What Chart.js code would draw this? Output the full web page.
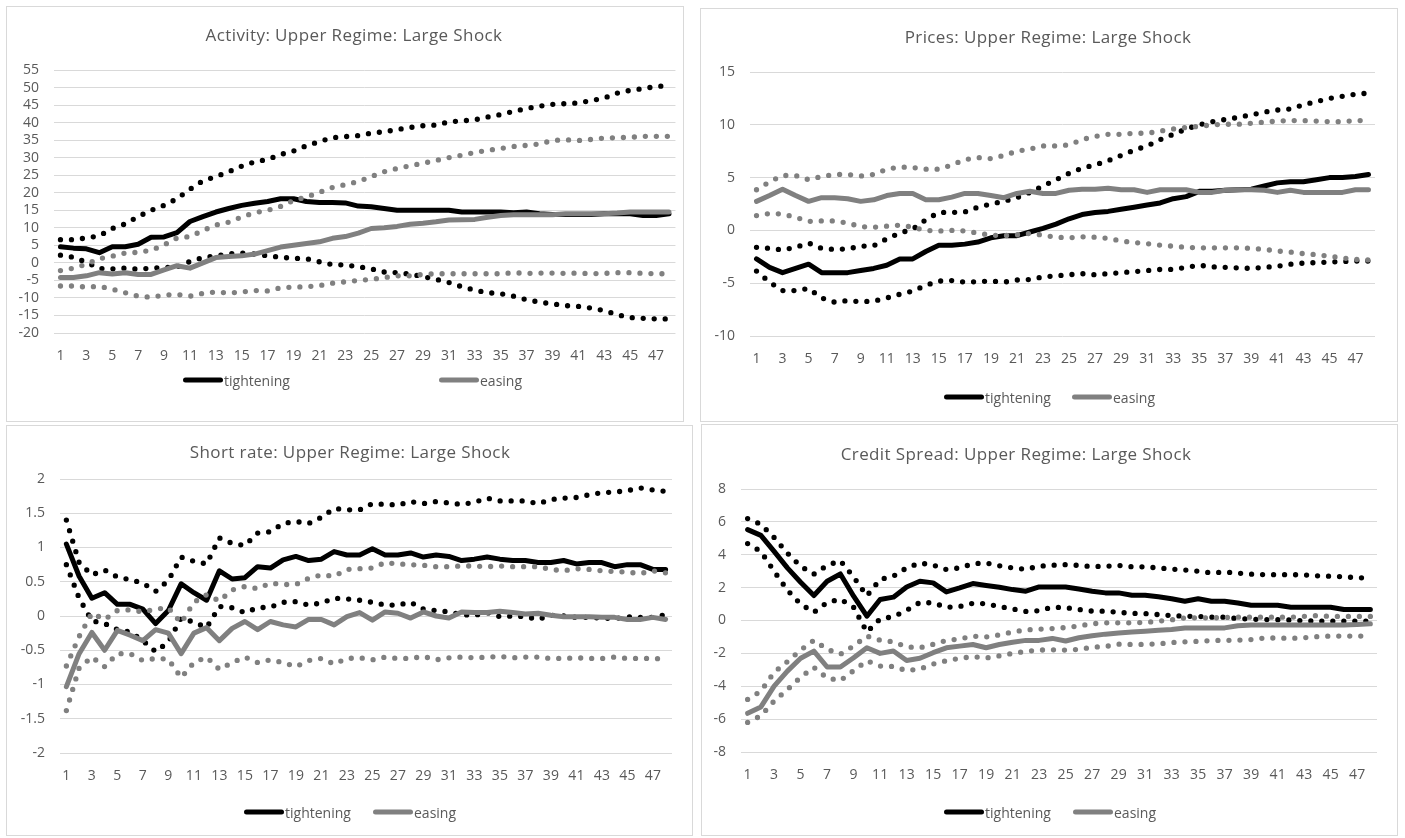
<!DOCTYPE html>
<html>
<head>
<meta charset="utf-8">
<script src="https://cdn.jsdelivr.net/npm/chart.js@4.4.0/dist/chart.umd.min.js"></script>
<style>
  body { margin: 0; width: 1405px; height: 838px; background: #fff; position: relative; overflow: hidden; font-family: "Open Sans", sans-serif; }
  .panel { position: absolute; border: 1px solid #d9d9d9; box-sizing: border-box; }
  canvas { position: absolute; }
  .title { position: absolute; transform: translate(-50%, -50%); white-space: nowrap; color: #595959; font-size: 17px; letter-spacing: 0.4px; }
  .leg { position: absolute; transform: translateY(-50%); display: flex; align-items: center; color: #595959; font-size: 14px; white-space: nowrap; }
  .leg i { display: inline-block; width: 40px; height: 5px; border-radius: 3px; margin-right: 1px; }
</style>
</head>
<body>
<script>
// horizons (x categories)
const horizons = [1,2,3,4,5,6,7,8,9,10,11,12,13,14,15,16,17,18,19,20,21,22,23,24,
                  25,26,27,28,29,30,31,32,33,34,35,36,37,38,39,40,41,42,43,44,45,46,47,48];

// Activity
const actTight   = [4.6,4.2,4.0,2.9,4.6,4.6,5.3,7.3,7.4,8.6,11.8,13.2,14.5,15.5,16.4,17,17.5,18.3,18.3,17.5,17.2,17.2,17.1,16.2,16,15.5,15,15,15,15,15,14.5,14.5,14.5,14.5,14.3,14.5,14,13.8,13.8,13.8,13.8,14,14,14,13.5,13.5,14];
const actTightHi = [6.6,6.6,7.1,7.7,9.8,11.1,13.2,15,16.4,18.3,21,23.4,24.6,26,27.6,28.8,29.5,30.9,31.9,33.4,34.6,35.7,36,36.3,37,37.4,38,38.6,39.1,39.3,40.2,40.5,40.8,41.6,42.3,43.2,44,44.7,45.2,45.4,45.6,46.3,47,48.4,49.2,49.7,50.3,50.5];
const actTightLo = [2.2,1.6,0.2,-1.6,-1.7,-1.5,-1.8,-1.5,-1.3,-1.2,0.4,1.5,2,2.6,2.8,2.5,2,1.6,1.3,1.2,0.3,-0.5,-0.6,-1.1,-1.7,-2.6,-2.8,-3.2,-3.9,-4.7,-5.6,-6.8,-7.8,-8.5,-8.8,-9.5,-10.5,-11.2,-11.7,-12.2,-12.4,-12.9,-13.6,-14.8,-15.6,-15.8,-16,-16];
const actEase    = [-4.2,-4.2,-3.7,-2.8,-3.2,-2.8,-3.3,-3.3,-2,-0.8,-1.5,0,1.5,1.8,2,2.5,3.5,4.5,5,5.5,6,7,7.5,8.5,9.8,10,10.4,11,11.3,11.7,12.2,12.3,12.4,13,13.5,13.7,13.7,13.7,13.7,14,14,14,14,14.2,14.5,14.5,14.5,14.5];
const actEaseHi  = [-2.2,-1.5,-0.4,1.2,1.9,2.8,3.0,3.6,5.1,7.1,7.5,9.2,10.8,11.6,13.1,14.3,15,16.1,17.8,18.8,20.1,21.5,22.3,23.2,24.6,26,26.9,27.7,28.4,29.2,30,30.7,31.5,32.1,32.6,33.2,33.5,33.9,34.9,35.1,34.9,35.2,35.6,35.7,35.8,36.1,36.1,36.1];
const actEaseLo  = [-6.6,-6.6,-6.9,-6.7,-7.5,-8.5,-9.5,-9.8,-9.2,-9,-9.5,-8.7,-8.3,-8.6,-8.3,-7.9,-8,-7.1,-6.9,-6.8,-6.5,-5.8,-5.4,-5,-4.7,-4.2,-3.7,-3.7,-3.3,-3.1,-3.1,-3.1,-3.1,-3.1,-3.1,-2.8,-3.0,-2.9,-2.9,-3,-2.9,-3.1,-3.0,-2.8,-2.8,-3,-3.1,-3.1];

// Prices
const prcTight   = [-2.7,-3.5,-4,-3.6,-3.2,-4,-4,-4,-3.8,-3.6,-3.3,-2.7,-2.7,-2,-1.4,-1.4,-1.3,-1.1,-0.7,-0.5,-0.5,-0.15,0.2,0.6,1.1,1.5,1.7,1.8,2,2.2,2.4,2.6,3,3.2,3.7,3.7,3.8,3.85,3.9,4.2,4.5,4.6,4.6,4.8,5,5,5.1,5.3];
const prcTightHi = [-1.6,-1.7,-1.85,-1.6,-1.2,-1.7,-1.8,-1.75,-1.5,-1.45,-0.8,-0.25,0.12,1.0,1.7,1.7,1.75,2.2,2.5,2.75,3.1,3.6,4.2,4.8,5.4,5.9,6.2,6.6,7.1,7.6,8,8.6,9.1,9.6,10,10.3,10.5,10.7,10.95,11.2,11.4,11.5,11.9,12.2,12.5,12.7,12.9,13];
const prcTightLo = [-3.85,-4.9,-5.7,-5.7,-5.5,-6.4,-6.8,-6.65,-6.75,-6.7,-6.4,-6.05,-5.75,-5.2,-4.8,-4.75,-4.9,-4.85,-4.8,-4.9,-4.7,-4.65,-4.4,-4.3,-4.2,-4.1,-4.2,-4.1,-4.0,-3.9,-3.8,-3.7,-3.7,-3.5,-3.3,-3.45,-3.5,-3.55,-3.6,-3.5,-3.4,-3.2,-3.1,-3.05,-3,-2.95,-2.9,-2.9];
const prcEase    = [2.75,3.3,3.9,3.3,2.75,3.1,3.1,3,2.75,2.9,3.3,3.5,3.5,2.9,2.9,3.15,3.5,3.5,3.3,3.1,3.5,3.7,3.5,3.5,3.8,3.9,3.9,4,3.85,3.85,3.6,3.85,3.85,3.85,3.6,3.6,3.8,3.85,3.85,3.8,3.6,3.8,3.6,3.6,3.6,3.6,3.85,3.85];
const prcEaseHi  = [3.85,4.6,5.2,5.2,4.8,5.1,5.3,5.3,5.15,5.3,5.8,6,5.95,5.8,5.8,6.2,6.7,6.9,6.8,7.1,7.5,7.7,8,8,8.1,8.6,8.9,9.1,9.1,9.2,9.2,9.4,9.6,9.75,9.85,10,10.05,10.05,10.15,10.25,10.35,10.4,10.4,10.35,10.3,10.3,10.4,10.4];
const prcEaseLo  = [1.4,1.6,1.55,1.25,0.85,0.9,0.9,0.7,0.35,0.3,0.4,0.5,0.3,0.0,-0.06,0,-0.05,-0.25,-0.45,-0.5,-0.42,-0.28,-0.45,-0.65,-0.7,-0.6,-0.65,-0.75,-1.0,-1.15,-1.25,-1.4,-1.5,-1.6,-1.65,-1.65,-1.65,-1.65,-1.7,-1.8,-1.95,-2.05,-2.2,-2.3,-2.45,-2.6,-2.75,-2.8];

// Short rate
const srTight   = [1.05,0.58,0.26,0.34,0.17,0.17,0.1,-0.11,0.08,0.47,0.34,0.23,0.66,0.54,0.56,0.72,0.7,0.82,0.87,0.81,0.83,0.94,0.89,0.89,0.98,0.89,0.89,0.92,0.86,0.89,0.87,0.81,0.83,0.86,0.83,0.81,0.81,0.78,0.78,0.81,0.76,0.78,0.78,0.72,0.75,0.75,0.68,0.68];
const srTightHi = [1.4,0.78,0.6,0.67,0.57,0.53,0.48,0.36,0.52,0.86,0.8,0.76,1.14,1.06,1.03,1.21,1.23,1.35,1.38,1.35,1.44,1.57,1.55,1.55,1.64,1.63,1.62,1.67,1.64,1.67,1.65,1.63,1.66,1.72,1.68,1.68,1.68,1.64,1.7,1.72,1.73,1.77,1.8,1.81,1.83,1.87,1.84,1.82];
const srTightLo = [0.75,0.26,-0.07,-0.11,-0.2,-0.23,-0.36,-0.52,-0.38,-0.03,-0.09,-0.17,0.14,0.12,0.05,0.12,0.13,0.2,0.21,0.16,0.19,0.26,0.25,0.23,0.2,0.16,0.16,0.2,0.1,0.08,0.06,0.02,0.01,0.05,-0.01,0,-0.01,-0.05,0.01,0,-0.02,-0.02,-0.03,-0.04,-0.01,-0.02,-0.02,0.02];
const srEase    = [-1.03,-0.55,-0.24,-0.5,-0.21,-0.28,-0.36,-0.2,-0.25,-0.55,-0.25,-0.17,-0.36,-0.18,-0.08,-0.2,-0.08,-0.13,-0.16,-0.05,-0.05,-0.13,-0.01,0.05,-0.06,0.06,0.04,-0.03,0.06,0,-0.03,0.06,0.05,0.05,0.07,0.05,0.03,0.04,0.01,-0.01,-0.01,-0.01,-0.02,-0.02,-0.05,-0.05,-0.02,-0.05];
const srEaseHi  = [-0.73,-0.3,0.04,-0.05,0.08,0.09,0.06,0.1,0.12,-0.1,0.2,0.31,0.22,0.38,0.43,0.4,0.48,0.46,0.46,0.55,0.6,0.58,0.68,0.69,0.7,0.78,0.76,0.75,0.74,0.72,0.72,0.73,0.73,0.72,0.73,0.72,0.72,0.72,0.68,0.66,0.69,0.68,0.66,0.65,0.64,0.62,0.66,0.63];
const srEaseLo  = [-1.38,-0.76,-0.6,-0.74,-0.55,-0.55,-0.65,-0.62,-0.63,-0.9,-0.68,-0.6,-0.78,-0.68,-0.6,-0.68,-0.64,-0.68,-0.74,-0.65,-0.62,-0.7,-0.62,-0.61,-0.64,-0.6,-0.62,-0.62,-0.59,-0.64,-0.61,-0.6,-0.61,-0.6,-0.59,-0.61,-0.6,-0.6,-0.62,-0.62,-0.61,-0.62,-0.62,-0.6,-0.62,-0.62,-0.62,-0.63];

// Credit spread
const csTight   = [5.53,5.18,4.2,3.2,2.33,1.52,2.39,2.83,1.48,0.26,1.28,1.42,2.04,2.39,2.29,1.74,1.98,2.25,2.13,2.02,1.88,1.78,2.04,2.04,2.04,1.92,1.78,1.68,1.68,1.54,1.54,1.44,1.32,1.17,1.32,1.17,1.17,1.07,0.93,0.93,0.93,0.81,0.81,0.81,0.81,0.67,0.67,0.67];
const csTightHi = [6.2,5.85,5.05,4.1,3.3,2.82,3.35,3.64,2.65,1.5,2.5,2.7,3.2,3.5,3.37,3.1,3.2,3.45,3.5,3.33,3.2,3.12,3.3,3.36,3.4,3.35,3.28,3.3,3.35,3.27,3.26,3.2,3.13,3.07,3.0,2.9,2.95,2.88,2.82,2.79,2.79,2.79,2.77,2.72,2.69,2.66,2.6,2.58];
const csTightLo = [4.68,4.2,3.0,1.85,1.0,0.5,1.1,1.3,0.8,-0.7,0.1,0.23,0.62,1.1,1.07,0.8,0.85,1.05,1.02,0.85,0.7,0.55,0.6,0.81,0.78,0.67,0.57,0.57,0.5,0.43,0.42,0.36,0.3,0.26,0.25,0.2,0.2,0.12,0.08,0.06,0.05,0.03,-0.02,-0.04,-0.04,-0.04,-0.04,-0.04];
const csEase    = [-5.65,-5.26,-3.99,-3.08,-2.3,-1.86,-2.83,-2.83,-2.27,-1.66,-2.0,-1.86,-2.43,-2.3,-1.96,-1.66,-1.56,-1.46,-1.66,-1.46,-1.32,-1.21,-1.21,-1.09,-1.25,-1.05,-0.93,-0.83,-0.76,-0.7,-0.65,-0.6,-0.55,-0.46,-0.45,-0.45,-0.45,-0.32,-0.28,-0.28,-0.28,-0.28,-0.28,-0.28,-0.28,-0.28,-0.25,-0.2];
const csEaseHi  = [-4.8,-4.3,-3.15,-2.5,-1.8,-1.2,-1.75,-2.05,-1.55,-0.95,-1.2,-1.3,-1.6,-1.66,-1.45,-1.21,-1.12,-0.95,-1.0,-0.88,-0.7,-0.57,-0.53,-0.49,-0.43,-0.33,-0.2,-0.14,-0.14,-0.14,-0.12,-0.04,0.04,0.16,0.16,0.16,0.18,0.2,0.2,0.2,0.2,0.2,0.25,0.3,0.25,0.25,0.25,0.25];
const csEaseLo  = [-6.2,-5.8,-4.9,-4.2,-3.45,-2.85,-3.5,-3.65,-3.05,-2.45,-2.77,-2.8,-3.05,-2.95,-2.65,-2.45,-2.3,-2.2,-2.28,-2.15,-2.0,-1.88,-1.8,-1.78,-1.8,-1.76,-1.63,-1.58,-1.44,-1.46,-1.45,-1.42,-1.34,-1.3,-1.27,-1.22,-1.21,-1.2,-1.16,-1.07,-1.06,-1.09,-1.05,-0.98,-0.95,-0.95,-0.95,-0.95];

const BLACK = '#000000';
const GREY = '#808080';
const TEXT = '#595959';
const FONT = 'Open Sans';

const panels = [
  { title: 'Activity: Upper Regime: Large Shock', box: [6, 6, 684, 422], plot: [54, 70, 682, 333],
    titleAt: [354, 34], legendY: 380, legendX: [183, 439], min: -20, max: 55, step: 5,
    series: [actTight, actTightHi, actTightLo, actEase, actEaseHi, actEaseLo] },
  { title: 'Prices: Upper Regime: Large Shock', box: [700, 8, 1398, 422], plot: [750, 72, 1375, 336],
    titleAt: [1048, 36], legendY: 397, legendX: [944, 1072], min: -10, max: 15, step: 5,
    series: [prcTight, prcTightHi, prcTightLo, prcEase, prcEaseHi, prcEaseLo] },
  { title: 'Short rate: Upper Regime: Large Shock', box: [6, 425, 693, 836], plot: [60, 479, 672, 753],
    titleAt: [350, 451], legendY: 812, legendX: [244, 373], min: -2, max: 2, step: 0.5,
    series: [srTight, srTightHi, srTightLo, srEase, srEaseHi, srEaseLo] },
  { title: 'Credit Spread: Upper Regime: Large Shock', box: [701, 424, 1398, 836], plot: [741, 489, 1377, 752],
    titleAt: [1016, 453], legendY: 812, legendX: [944, 1073], min: -8, max: 8, step: 2,
    series: [csTight, csTightHi, csTightLo, csEase, csEaseHi, csEaseLo] }
];

const solid = (label, data, color, i) => ({
  label, data, borderColor: color, backgroundColor: color, borderWidth: 5,
  borderJoinStyle: 'round', borderCapStyle: 'round', pointRadius: 0, tension: 0, order: -i
});
const dotted = (data, color, i) => ({
  label: '', data, borderColor: color, backgroundColor: color, borderWidth: 5.3,
  borderDash: [0, 11], borderCapStyle: 'round', pointRadius: 0, tension: 0, order: -i
});

const place = (el, x, y, w, h) => {
  el.style.left = x + 'px';
  el.style.top = y + 'px';
  if (w !== undefined) { el.style.width = w + 'px'; el.style.height = h + 'px'; }
  document.body.appendChild(el);
};

panels.forEach(p => {
  const [bl, bt, br, bb] = p.box;
  const [pl, pt, pr, pb] = p.plot;
  const w = br - bl, h = bb - bt;

  const frame = document.createElement('div');
  frame.className = 'panel';
  place(frame, bl, bt, w, h);

  const cv = document.createElement('canvas');
  cv.width = w; cv.height = h;
  place(cv, bl, bt, w, h);

  const title = document.createElement('div');
  title.className = 'title';
  title.textContent = p.title;
  place(title, p.titleAt[0], p.titleAt[1]);

  [['tightening', BLACK], ['easing', GREY]].forEach(([name, color], k) => {
    const item = document.createElement('div');
    item.className = 'leg';
    item.innerHTML = '<i style="background:' + color + '"></i><span>' + name + '</span>';
    place(item, p.legendX[k], p.legendY);
  });

  const s = p.series;
  new Chart(cv, {
    type: 'line',
    data: {
      labels: horizons,
      datasets: [
        solid('tightening', s[0], BLACK, 0),
        dotted(s[1], BLACK, 1),
        dotted(s[2], BLACK, 2),
        solid('easing', s[3], GREY, 3),
        dotted(s[4], GREY, 4),
        dotted(s[5], GREY, 5)
      ]
    },
    options: {
      responsive: false,
      animation: false,
      events: [],
      layout: { padding: { top: pt - bt, right: br - pr, bottom: 0, left: 0 } },
      plugins: { legend: { display: false }, title: { display: false }, tooltip: { enabled: false } },
      scales: {
        x: {
          offset: true,
          grid: { display: false, drawTicks: false },
          border: { display: false },
          ticks: {
            autoSkip: false, maxRotation: 0, padding: 15, color: TEXT,
            font: { family: FONT, size: 14 },
            callback: (v, i) => (i % 2 === 0 ? String(horizons[i]) : '')
          },
          afterFit: sc => { sc.height = bb - pb; }
        },
        y: {
          min: p.min, max: p.max,
          grid: { color: '#d9d9d9', lineWidth: 1, drawTicks: false },
          border: { display: false },
          ticks: {
            stepSize: p.step, autoSkip: false, padding: 15, color: TEXT,
            font: { family: FONT, size: 14 },
            callback: v => String(v)
          },
          afterFit: sc => { sc.width = pl - bl; }
        }
      }
    }
  });
});
</script>
</body>
</html>
